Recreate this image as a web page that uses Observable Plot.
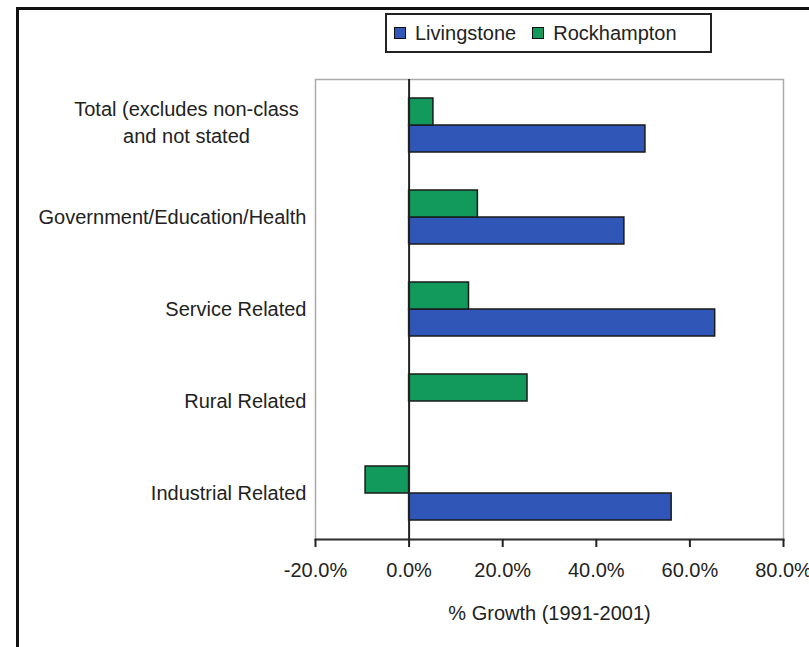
<!DOCTYPE html>
<html>
<head>
<meta charset="utf-8">
<script src="https://cdn.jsdelivr.net/npm/d3@7"></script>
<script src="https://cdn.jsdelivr.net/npm/@observablehq/plot@0.6"></script>
<style>
  html, body { margin: 0; padding: 0; background: #fff; overflow: hidden; }
  #wrap { position: relative; width: 809px; height: 647px; font-family: "Liberation Sans", Arial, sans-serif; }
  #outer { position: absolute; left: 16px; top: 7px; width: 900px; height: 700px; border-left: 3px solid #111; border-top: 3px solid #111; box-sizing: border-box; }
  #chart { position: absolute; left: 0; top: 0; }
  #legend { position: absolute; left: 385px; top: 13px; width: 327px; height: 40px; box-sizing: border-box; border: 2px solid #222; background: #fff;
            display: flex; align-items: center; gap: 0; font-size: 20px; color: #222; padding-left: 7px; }
  .item { display: flex; align-items: center; margin-right: 16px; }
  .sw { width: 10px; height: 10px; border: 1px solid #111; margin-right: 9px; }
</style>
</head>
<body>
<div id="wrap">
  <div id="outer"></div>
  <div id="chart"></div>
  <div id="legend"></div>
</div>
<script>
const categories = [
  "Total (excludes non-class\nand not stated",
  "Government/Education/Health",
  "Service Related",
  "Rural Related",
  "Industrial Related"
];
const series = ["Livingstone", "Rockhampton"];
const colors = ["#3056b8", "#12995c"];
const livingstone = [50.5, 46.0, 65.4, 0, 56.1];
const rockhampton = [5.2, 14.7, 12.8, 25.3, -9.3];
const xTicks = [-20, 0, 20, 40, 60, 80];

const data = categories.flatMap((c, i) => [
  {category: c, series: "Livingstone", value: livingstone[i]},
  {category: c, series: "Rockhampton", value: rockhampton[i]}
]);

const chart = Plot.plot({
  width: 809,
  height: 647,
  marginLeft: 315,
  marginRight: 26,
  marginTop: 78,
  marginBottom: 107,
  style: {fontFamily: "'Liberation Sans', Arial, sans-serif", fontSize: "20px", color: "#222", background: "transparent", overflow: "visible"},
  x: {domain: [-20, 80]},
  y: {domain: ["Rockhampton", "Livingstone"], paddingInner: 0, paddingOuter: 0.65, axis: null},
  fy: {domain: categories, padding: 0},
  color: {domain: series, range: colors},
  marks: [
    Plot.frame({facet: "super", stroke: "#aaa", strokeWidth: 1.5}),
    Plot.barX(data, {fy: "category", y: "series", x: "value", fill: "series", stroke: "#1a1a1a", strokeWidth: 1.5}),
    Plot.ruleX([0], {stroke: "#222", strokeWidth: 2}),
    Plot.frame({facet: "super", anchor: "bottom", stroke: "#333", strokeWidth: 2}),
    Plot.axisX({
      ticks: xTicks,
      tickFormat: d => d.toFixed(1) + "%",
      tickSize: 8,
      tickPadding: 15,
      strokeWidth: 2,
      label: "% Growth (1991-2001)",
      labelAnchor: "center",
      labelArrow: "none",
      labelOffset: 80
    }),
    Plot.axisFy({anchor: "left", ticks: categories.slice(1), tickSize: 0, tickPadding: 9, label: null}),
    Plot.axisFy({anchor: "left", ticks: [categories[0]], tickSize: 0, tickPadding: 8, textAnchor: "middle", dx: -121, dy: -5, lineHeight: 1.35, label: null})
  ]
});
document.getElementById("chart").appendChild(chart);

const legend = document.getElementById("legend");
series.forEach((s, i) => {
  const item = document.createElement("div");
  item.className = "item";
  const sw = document.createElement("div");
  sw.className = "sw";
  sw.style.background = colors[i];
  const t = document.createElement("span");
  t.textContent = s;
  item.appendChild(sw);
  item.appendChild(t);
  legend.appendChild(item);
});
</script>
</body>
</html>
